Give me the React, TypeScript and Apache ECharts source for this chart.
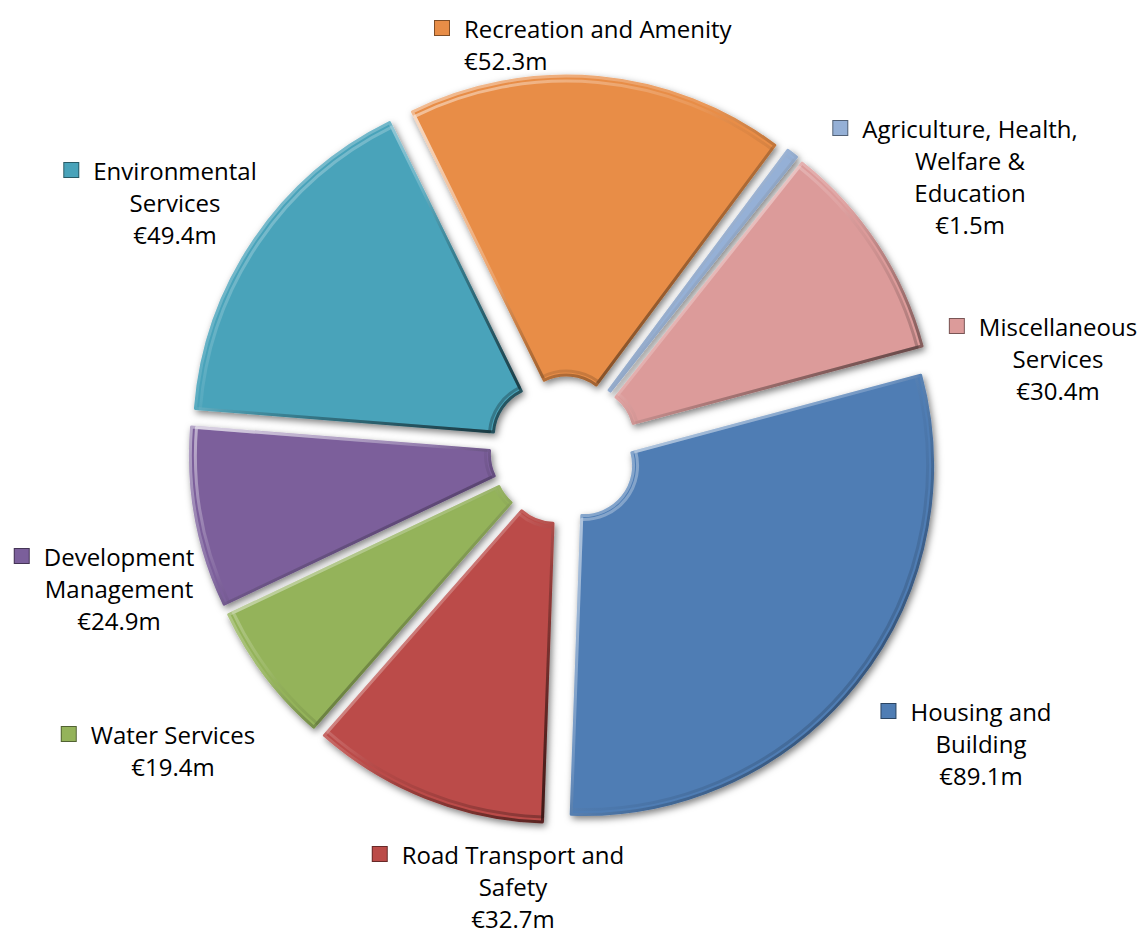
import React, { useEffect, useRef } from "react";
import * as echarts from "echarts";

// ---- Data ----
const categories = [
  "Housing and Building",
  "Road Transport and Safety",
  "Water Services",
  "Development Management",
  "Environmental Services",
  "Recreation and Amenity",
  "Agriculture, Health, Welfare & Education",
  "Miscellaneous Services",
];
const wrappedNames = [
  "Housing and\nBuilding",
  "Road Transport and\nSafety",
  "Water Services",
  "Development\nManagement",
  "Environmental\nServices",
  "Recreation and Amenity",
  "Agriculture, Health,\nWelfare &\nEducation",
  "Miscellaneous\nServices",
];
const values = [89.1, 32.7, 19.4, 24.9, 49.4, 52.3, 1.5, 30.4];
const colors = ["#4F7DB4", "#BB4B48", "#94B35A", "#7B5F9B", "#49A3BA", "#E88D47", "#95B0D6", "#DC9B9A"];

// ---- Layout (label anchors: x, y, alignment) ----
const labelAnchors: [number, number, string][] = [
  [981, 743, "center"],
  [513, 886, "center"],
  [173, 750, "center"],
  [119, 588, "center"],
  [175, 202, "center"],
  [435, 44, "left"],
  [970, 176, "center"],
  [1058, 358, "center"],
];

const FONT = "'Open Sans', 'Noto Sans', sans-serif";
const FS = 24;
const LH = 32;

function mix(hex: string, target: number, t: number): string {
  const n = parseInt(hex.slice(1), 16);
  const r = (n >> 16) & 255, g = (n >> 8) & 255, b = n & 255;
  const f = (c: number) => Math.round(c + (target - c) * t);
  return `rgb(${f(r)},${f(g)},${f(b)})`;
}

function sliceStyle(i: number) {
  const c = colors[i];
  return {
    color: c,
    borderColor: {
      type: "linear",
      x: 0,
      y: 0,
      x2: 1,
      y2: 1,
      colorStops: [
        { offset: 0, color: mix(c, 255, 0.45) },
        { offset: 0.45, color: mix(c, 255, 0.1) },
        { offset: 0.6, color: mix(c, 0, 0.15) },
        { offset: 1, color: mix(c, 0, 0.55) },
      ],
    },
    borderWidth: 3,
    shadowBlur: 7,
    shadowColor: "rgba(0,0,0,0.5)",
    shadowOffsetX: 2,
    shadowOffsetY: 3,
  };
}

const bevelStyle = {
  color: "rgba(0,0,0,0)",
  borderColor: {
    type: "linear",
    x: 0,
    y: 0,
    x2: 1,
    y2: 1,
    colorStops: [
      { offset: 0, color: "rgba(255,255,255,0.5)" },
      { offset: 0.45, color: "rgba(255,255,255,0.08)" },
      { offset: 0.55, color: "rgba(0,0,0,0.04)" },
      { offset: 1, color: "rgba(0,0,0,0.3)" },
    ],
  },
  borderWidth: 3,
};

export default function App() {
  const ref = useRef<HTMLDivElement>(null);

  useEffect(() => {
    if (!ref.current) return;
    const chart = echarts.init(ref.current, undefined, { renderer: "svg" });

    const rich: Record<string, any> = {
      t: { fontSize: FS, lineHeight: LH, fontFamily: FONT, color: "#000", align: "center" },
      tl: { fontSize: FS, lineHeight: LH, fontFamily: FONT, color: "#000", align: "left" },
      gap: { width: 15, height: 14, align: "left" },
      pad: { width: 29, height: 14, align: "right" },
      ind: { width: 29, height: 14, align: "left" },
    };
    colors.forEach((c, i) => {
      rich["sq" + i] = {
        width: 14,
        height: 14,
        backgroundColor: c,
        borderColor: mix(c, 0, 0.45),
        borderWidth: 1,
        align: "left",
      };
    });

    const formatter = (p: any) => {
      const i = p.dataIndex;
      const lines = wrappedNames[i].split("\n").concat([`€${values[i].toFixed(1)}m`]);
      const left = labelAnchors[i][2] === "left";
      return lines
        .map((l, k) => {
          if (k === 0) return `{sq${i}|}{gap|}{${left ? "tl" : "t"}|${l}}` + (left ? "" : "{pad|}");
          return left ? `{ind|}{tl|${l}}` : `{t|${l}}`;
        })
        .join("\n");
    };

    const common = {
      type: "pie",
      center: [564, 450],
      radius: [50, 349],
      startAngle: 15,
      clockwise: true,
      avoidLabelOverlap: false,
      emphasis: { disabled: true },
      labelLine: { show: false },
    };

    chart.setOption({
      animation: false,
      backgroundColor: "#ffffff",
      series: [
        {
          ...common,
          selectedMode: "multiple",
          selectedOffset: 25,
          label: { show: false },
          data: values.map((v, i) => ({
            value: v,
            name: categories[i],
            selected: true,
            itemStyle: sliceStyle(i),
            select: { itemStyle: sliceStyle(i) },
          })),
        },
        {
          ...common,
          radius: [54, 344],
          silent: true,
          selectedMode: "multiple",
          selectedOffset: 25,
          label: { show: false },
          data: values.map((v, i) => ({
            value: v,
            name: categories[i],
            selected: true,
            itemStyle: bevelStyle,
            select: { itemStyle: bevelStyle },
          })),
        },
        {
          ...common,
          silent: true,
          selectedMode: false,
          itemStyle: { color: "rgba(0,0,0,0)", borderWidth: 0 },
          label: {
            show: true,
            position: "outside",
            formatter,
            rich,
            fontSize: FS,
            lineHeight: LH,
            fontFamily: FONT,
            color: "#000",
          },
          labelLayout: (params: any) => {
            const a = labelAnchors[params.dataIndex];
            return { x: a[0], y: a[1], align: a[2], verticalAlign: "middle" };
          },
          data: values.map((v, i) => ({ value: v, name: categories[i] })),
        },
      ],
    });

    return () => chart.dispose();
  }, []);

  return (
    <div
      ref={ref}
      style={{ position: "fixed", left: 0, top: 0, width: 1145, height: 934 }}
    />
  );
}
